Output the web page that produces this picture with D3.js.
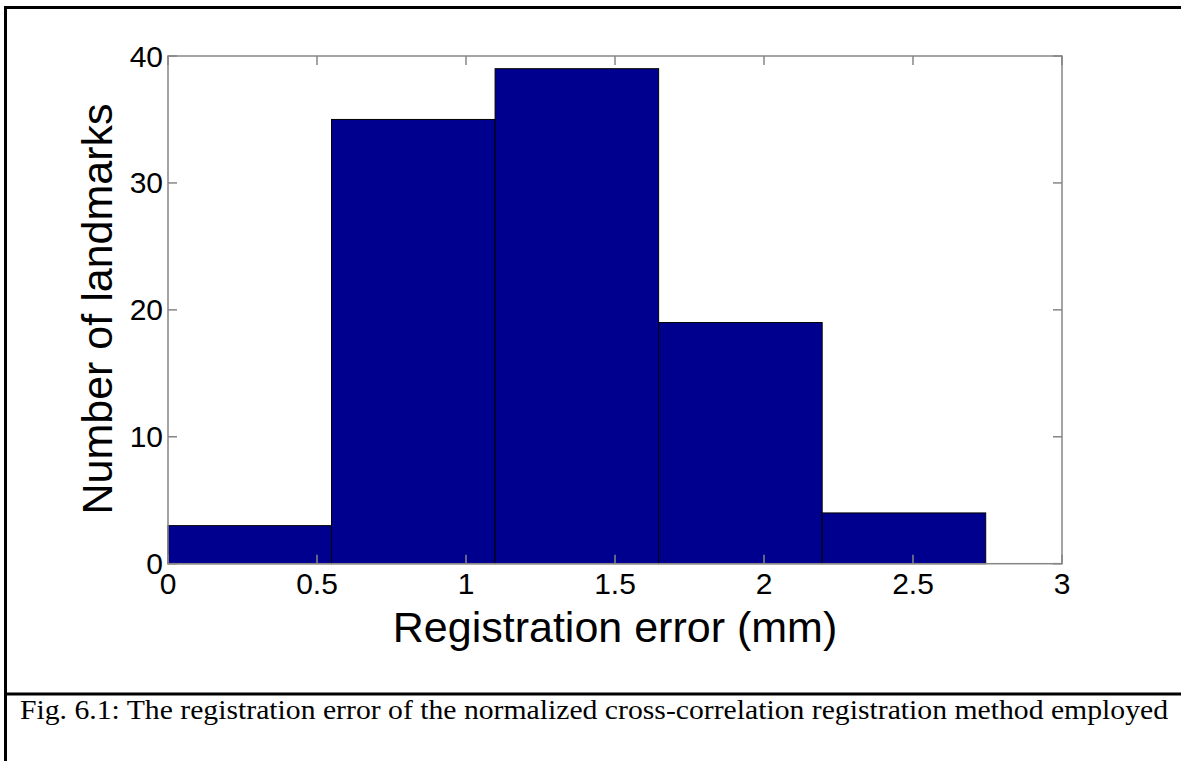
<!DOCTYPE html>
<html>
<head>
<meta charset="utf-8">
<script src="https://cdn.jsdelivr.net/npm/d3@7"></script>
<style>
  html, body { margin: 0; padding: 0; background: #fff; }
  svg { display: block; }
</style>
</head>
<body>
<svg id="fig" width="1181" height="761"></svg>
<script>
// Histogram of registration errors (5 bins)
const binEdges = [0, 0.5488, 1.0976, 1.6464, 2.1952, 2.744];
const counts = [3, 35, 39, 19, 4];
const xTicks = [0, 0.5, 1, 1.5, 2, 2.5, 3];
const xTickLabels = ["0", "0.5", "1", "1.5", "2", "2.5", "3"];
const yTicks = [0, 10, 20, 30, 40];
const yTickLabels = ["0", "10", "20", "30", "40"];
const xTitle = "Registration error (mm)";
const yTitle = "Number of landmarks";
const caption = "Fig. 6.1: The registration error of the normalized cross-correlation registration method employed";

const svg = d3.select("#fig");
const W = 1181, H = 761;

const plot = { left: 168, right: 1062, top: 56, bottom: 563.7 };
const x = d3.scaleLinear().domain([0, 3]).range([plot.left, plot.right]);
const y = d3.scaleLinear().domain([0, 40]).range([plot.bottom, plot.top]);

const axisColor = "#868686";
const sans = "'Liberation Sans', Arial, sans-serif";

// Frame around figure and caption
svg.append("rect")
  .attr("x", 5.5).attr("y", 7.5)
  .attr("width", W + 10).attr("height", H + 10)
  .attr("fill", "none").attr("stroke", "#000").attr("stroke-width", 3);
svg.append("line")
  .attr("x1", 5).attr("x2", W).attr("y1", 694).attr("y2", 694)
  .attr("stroke", "#000").attr("stroke-width", 3);

// Bars
const bins = counts.map((c, i) => ({ x0: binEdges[i], x1: binEdges[i + 1], c }));
svg.append("g").selectAll("rect").data(bins).join("rect")
  .attr("x", d => x(d.x0))
  .attr("width", d => x(d.x1) - x(d.x0))
  .attr("y", d => y(d.c))
  .attr("height", d => y(0) - y(d.c))
  .attr("fill", "#00008F")
  .attr("stroke", "#000")
  .attr("stroke-width", 1);

// Box and inward ticks on all four sides
const box = svg.append("g").attr("stroke", axisColor).attr("stroke-width", 1.5).attr("fill", "none");
box.append("rect")
  .attr("x", plot.left).attr("y", plot.top)
  .attr("width", plot.right - plot.left).attr("height", plot.bottom - plot.top);
const tl = 9;
xTicks.forEach(t => {
  box.append("line").attr("x1", x(t)).attr("x2", x(t)).attr("y1", plot.top).attr("y2", plot.top + tl);
  box.append("line").attr("x1", x(t)).attr("x2", x(t)).attr("y1", plot.bottom).attr("y2", plot.bottom - tl);
});
yTicks.forEach(t => {
  box.append("line").attr("x1", plot.left).attr("x2", plot.left + tl).attr("y1", y(t)).attr("y2", y(t));
  box.append("line").attr("x1", plot.right).attr("x2", plot.right - tl).attr("y1", y(t)).attr("y2", y(t));
});

// Tick labels
svg.append("g").selectAll("text").data(xTicks).join("text")
  .attr("x", d => x(d))
  .attr("y", plot.bottom + 30.5)
  .attr("text-anchor", "middle")
  .attr("font-family", sans).attr("font-size", 30)
  .text((d, i) => xTickLabels[i]);
svg.append("g").selectAll("text").data(yTicks).join("text")
  .attr("x", plot.left - 5)
  .attr("y", d => y(d))
  .attr("dy", "0.35em")
  .attr("text-anchor", "end")
  .attr("font-family", sans).attr("font-size", 30)
  .text((d, i) => yTickLabels[i]);

// Axis titles
svg.append("text")
  .attr("x", (plot.left + plot.right) / 2)
  .attr("y", 641.5)
  .attr("text-anchor", "middle")
  .attr("font-family", sans).attr("font-size", 43)
  .text(xTitle);
svg.append("text")
  .attr("transform", `translate(112,309) rotate(-90)`)
  .attr("text-anchor", "middle")
  .attr("font-family", sans).attr("font-size", 43)
  .text(yTitle);

// Caption
svg.append("text")
  .attr("x", 20).attr("y", 719)
  .attr("font-family", "'Liberation Serif', 'Times New Roman', serif")
  .attr("font-size", 28)
  .attr("textLength", 1148)
  .attr("lengthAdjust", "spacingAndGlyphs")
  .text(caption);
</script>
</body>
</html>
